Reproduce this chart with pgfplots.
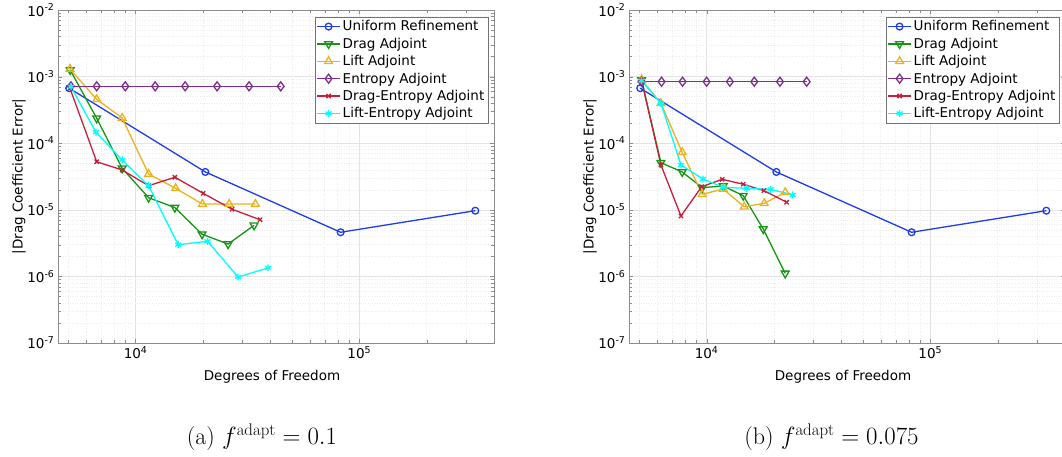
\documentclass[border=0pt]{standalone}
\usepackage{pgfplots}
\pgfplotsset{compat=1.18}
\usepackage{fontspec}
\newfontfamily\dejavu{DejaVu Sans}
\definecolor{cUni}{RGB}{30,60,235}
\definecolor{cDrag}{RGB}{20,150,20}
\definecolor{cLift}{RGB}{237,177,32}
\definecolor{cEnt}{RGB}{126,47,142}
\definecolor{cDE}{RGB}{200,30,60}
\definecolor{cLE}{RGB}{0,255,255}
\newcommand{\lblfont}{\dejavu\fontsize{13.5}{16}\selectfont}
\pgfplotsset{
  myaxis/.style={
    scale only axis, width=436pt, height=333pt, anchor=south west,
    xmin=4500, xmax=4e5, ymin=1e-7, ymax=1e-2,
    xtick={1e3,1e4,1e5,1e6},
    ytick={1e-8,1e-7,1e-6,1e-5,1e-4,1e-3,1e-2,1e-1},
    xticklabel={\pgfmathparse{int(round(\tick/ln(10)))}10\textsuperscript{\pgfmathresult}},
    yticklabel={\pgfmathparse{int(round(\tick/ln(10)))}10\textsuperscript{\pgfmathresult}},
    tick label style={font=\lblfont},
    label style={font=\lblfont},
    xlabel={Degrees of Freedom},
    ylabel={|Drag Coefficient Error|},
    xlabel style={at={([xshift=-4pt,yshift=-34pt]axis description cs:0.5,0)}, anchor=center},
    ylabel style={at={([xshift=-39pt]axis description cs:0,0.5)}, anchor=center},
    axis line style={black!45},
    tick style={black!45},
    tick align=inside,
    major tick length=4.5pt, minor tick length=3pt,
    grid=both,
    major grid style={black!11, line width=0.6pt},
    minor grid style={black!7, dotted},
    every axis plot/.append style={line width=1.3pt},
    legend cell align=left,
    legend style={at={([xshift=-6pt,yshift=-7pt]axis description cs:1,1)}, anchor=north east,
      draw=black!55, fill=white, inner sep=1.5pt, font=\lblfont,
      row sep=1.6pt, column sep=0pt},
    legend image code/.code={\draw[mark repeat=2,mark phase=2,line width=1.3pt] plot coordinates {(0pt,0pt) (11.5pt,0pt) (23pt,0pt)};},
  },
  sUni/.style={color=cUni, mark=o, mark size=3.4pt},
  sDrag/.style={color=cDrag, mark=triangle, mark size=4.5pt, mark options={rotate=180}},
  sLift/.style={color=cLift, mark=triangle, mark size=4.5pt},
  sEnt/.style={color=cEnt, mark=diamond, mark size=4.5pt},
  sDE/.style={color=cDE, mark=x, mark size=3pt},
  sLE/.style={color=cLE, mark=asterisk, mark size=3.5pt},
}
\begin{document}
\begin{tikzpicture}[x=1pt,y=1pt]
\path[use as bounding box] (0,0) rectangle (1062,457);
\begin{loglogaxis}[myaxis, at={(58pt,114pt)}]
\addplot[sUni] coordinates {(5050,6.7e-4) (20500,3.7e-5) (82500,4.6e-6) (330000,9.7e-6)};
\addplot[sDrag] coordinates {(5100,1.26e-3) (6700,2.37e-4) (8710,4.2e-5) (11430,1.52e-5) (14980,1.08e-5) (19830,4.3e-6) (25910,3.06e-6) (33850,5.85e-6)};
\addplot[sLift] coordinates {(5090,1.30e-3) (6700,4.56e-4) (8710,2.39e-4) (11430,3.45e-5) (15100,2.1e-5) (19900,1.22e-5) (26200,1.22e-5) (34300,1.22e-5)};
\addplot[sEnt] coordinates {(5140,7.15e-4) (6700,7.15e-4) (8990,7.15e-4) (12230,7.15e-4) (16650,7.15e-4) (23130,7.15e-4) (32150,7.15e-4) (44530,7.15e-4)};
\addplot[sDE] coordinates {(5090,6.67e-4) (6700,5.27e-5) (8710,3.96e-5) (11430,2.3e-5) (14980,3.08e-5) (20040,1.77e-5) (26990,1.02e-5) (36000,7.1e-6)};
\addplot[sLE] coordinates {(5140,7.05e-4) (6650,1.46e-4) (8710,5.6e-5) (11430,2.3e-5) (15500,2.99e-6) (20960,3.37e-6) (28710,9.8e-7) (39080,1.34e-6)};
\legend{Uniform Refinement, Drag Adjoint, Lift Adjoint, Entropy Adjoint, Drag-Entropy Adjoint, Lift-Entropy Adjoint}
\end{loglogaxis}
\begin{loglogaxis}[myaxis, at={(629pt,114pt)}]
\addplot[sUni] coordinates {(5050,6.7e-4) (20500,3.7e-5) (82500,4.6e-6) (330000,9.7e-6)};
\addplot[sDrag] coordinates {(5120,8.9e-4) (6250,5.09e-5) (7780,3.7e-5) (9560,2.15e-5) (11870,2.28e-5) (14580,1.63e-5) (17910,5.15e-6) (22460,1.11e-6)};
\addplot[sLift] coordinates {(5120,9.0e-4) (6250,3.97e-4) (7780,7.3e-5) (9560,1.71e-5) (11870,2.05e-5) (14730,1.11e-5) (18100,1.25e-5) (22460,1.83e-5)};
\addplot[sEnt] coordinates {(5120,8.38e-4) (6290,8.38e-4) (7810,8.38e-4) (10000,8.38e-4) (12710,8.38e-4) (16330,8.38e-4) (21270,8.38e-4) (28010,8.38e-4)};
\addplot[sDE] coordinates {(5120,8.7e-4) (6250,4.71e-5) (7680,8.07e-6) (9500,2.22e-5) (11740,2.87e-5) (14580,2.42e-5) (18040,1.94e-5) (22790,1.3e-5)};
\addplot[sLE] coordinates {(5120,8.69e-4) (6250,3.97e-4) (7680,4.71e-5) (9630,2.9e-5) (11870,2.18e-5) (15100,2.1e-5) (19330,2.03e-5) (24250,1.67e-5)};
\legend{Uniform Refinement, Drag Adjoint, Lift Adjoint, Entropy Adjoint, Drag-Entropy Adjoint, Lift-Entropy Adjoint}
\end{loglogaxis}
\node[font=\fontsize{24}{28}\selectfont] at (262,20) {(a) $f^{\mathrm{adapt}}=0.1$};
\node[font=\fontsize{24}{28}\selectfont] at (831.5,20) {(b) $f^{\mathrm{adapt}}=0.075$};
\end{tikzpicture}
\end{document}
